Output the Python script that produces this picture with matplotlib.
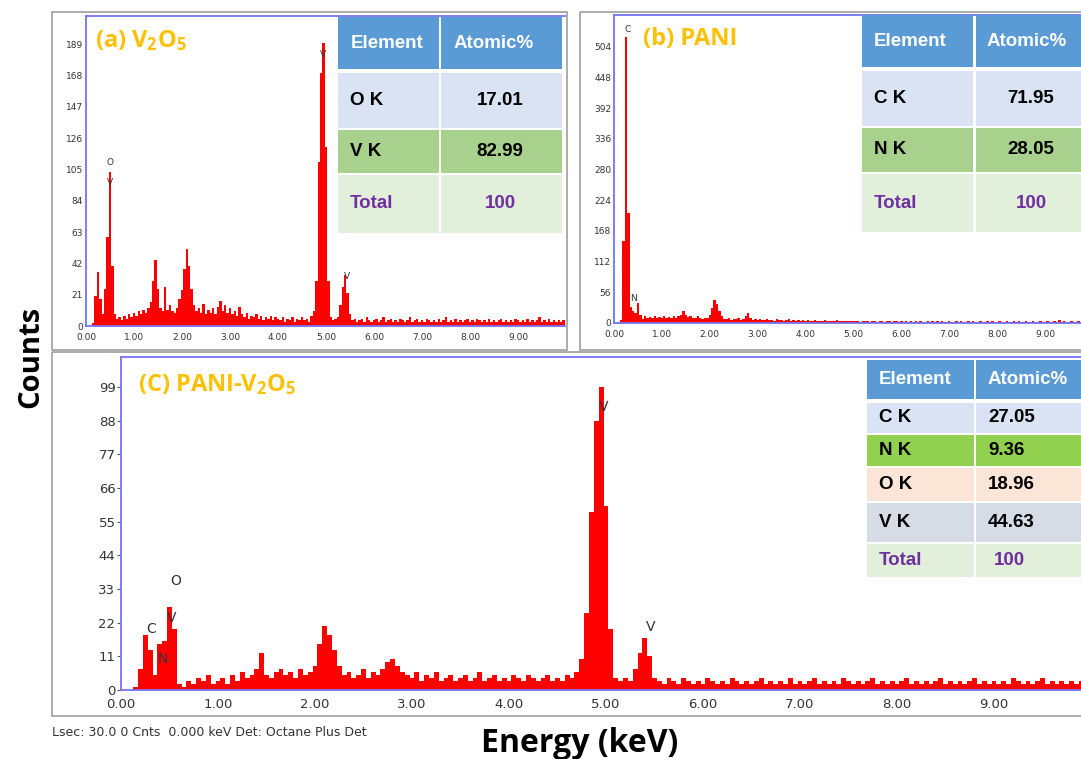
import numpy as np
import matplotlib
matplotlib.use('Agg')
import matplotlib.pyplot as plt
from matplotlib.patches import Rectangle

# EDS spectra, one count value per 0.05 keV channel starting at 0.00 keV
STEP = 0.05

counts_v2o5 = [
    0, 0, 0, 2, 20, 36, 18, 8, 25, 60, 103, 40, 8, 5, 6, 4, 7, 5, 8, 6,
    9, 7, 10, 8, 11, 9, 12, 16, 30, 44, 25, 12, 10, 26, 11, 14, 10, 9, 12, 18,
    24, 38, 52, 40, 25, 14, 10, 12, 9, 15, 8, 11, 9, 12, 8, 13, 17, 10, 14, 9,
    12, 8, 10, 7, 13, 8, 6, 9, 5, 7, 6, 8, 5, 7, 4, 6, 5, 7, 4, 6,
    5, 4, 6, 3, 5, 4, 6, 3, 5, 4, 6, 4, 5, 3, 7, 10, 30, 110, 170, 190,
    120, 30, 6, 4, 5, 6, 14, 26, 34, 22, 8, 4, 5, 3, 4, 5, 3, 6, 4, 3,
    4, 5, 3, 4, 6, 3, 4, 5, 3, 4, 3, 5, 4, 3, 4, 6, 3, 4, 5, 3,
    4, 3, 5, 4, 3, 4, 3, 5, 3, 4, 6, 3, 4, 3, 5, 3, 4, 3, 4, 5,
    3, 4, 3, 5, 4, 3, 4, 3, 5, 3, 4, 3, 4, 5, 3, 4, 3, 4, 3, 5,
    4, 3, 4, 3, 5, 3, 4, 3, 4, 6, 3, 4, 3, 5, 3, 4, 3, 4, 3, 4,
]

counts_pani = [
    0, 0, 0, 5, 150, 522, 200, 30, 22, 18, 36, 15, 8, 12, 10, 11, 9, 12, 10, 11,
    9, 12, 10, 11, 9, 12, 10, 13, 15, 22, 14, 11, 12, 9, 10, 12, 9, 8, 10, 9,
    14, 28, 42, 35, 22, 12, 8, 7, 9, 6, 8, 7, 10, 6, 7, 12, 18, 9, 6, 7,
    5, 7, 6, 5, 8, 5, 6, 4, 7, 5, 6, 4, 5, 8, 4, 5, 4, 6, 4, 5,
    4, 5, 3, 4, 5, 3, 4, 3, 5, 4, 3, 4, 3, 5, 3, 4, 3, 4, 3, 4,
    3, 4, 3, 2, 4, 3, 3, 2, 4, 3, 2, 3, 4, 2, 3, 3, 2, 4, 3, 2,
    3, 2, 3, 2, 4, 2, 3, 2, 3, 2, 2, 3, 2, 3, 2, 4, 2, 3, 2, 2,
    3, 2, 2, 3, 2, 3, 2, 2, 4, 2, 3, 2, 2, 3, 2, 2, 3, 2, 4, 2,
    2, 3, 2, 2, 3, 2, 2, 3, 2, 4, 2, 2, 3, 2, 2, 3, 2, 2, 3, 2,
    2, 3, 2, 2, 3, 2, 5, 2, 3, 2, 2, 3, 2, 2, 3, 2, 4, 2, 3, 2,
]

counts_pani_v2o5 = [
    0, 0, 0, 1, 7, 18, 13, 5, 15, 16, 27, 20, 2, 1, 3, 2, 4, 3, 5, 2,
    3, 4, 2, 5, 3, 6, 4, 5, 7, 12, 5, 4, 6, 7, 5, 6, 4, 7, 5, 6,
    8, 15, 21, 18, 13, 8, 5, 6, 4, 5, 7, 4, 6, 5, 7, 9, 10, 8, 6, 5,
    4, 6, 3, 5, 4, 6, 3, 4, 5, 3, 4, 5, 3, 4, 6, 3, 4, 5, 3, 4,
    3, 5, 4, 3, 5, 4, 3, 4, 5, 3, 4, 3, 5, 4, 6, 10, 25, 58, 88, 99,
    60, 20, 4, 3, 4, 3, 7, 12, 17, 11, 4, 3, 2, 4, 3, 2, 4, 3, 2, 3,
    2, 4, 3, 2, 3, 2, 4, 3, 2, 3, 2, 3, 4, 2, 3, 2, 3, 2, 4, 2,
    3, 2, 3, 4, 2, 3, 2, 3, 2, 4, 3, 2, 3, 2, 3, 4, 2, 3, 2, 3,
    2, 3, 4, 2, 3, 2, 3, 2, 3, 4, 2, 3, 2, 3, 2, 3, 4, 2, 3, 2,
    3, 2, 3, 2, 4, 3, 2, 3, 2, 3, 4, 2, 3, 2, 3, 2, 3, 2, 3, 2,
]

# peak markers: (label, energy keV, counts)
peaks_v2o5 = [('O', 0.50, 110), ('V', 0.50, 96), ('V', 4.93, 182), ('V', 5.43, 33)]
peaks_pani = [('C', 0.28, 536), ('N', 0.40, 45)]
peaks_pani_v2o5 = [('C', 0.31, 20), ('N', 0.43, 10), ('V', 0.52, 23.5),
                   ('O', 0.56, 35.5), ('V', 4.98, 92.5), ('V', 5.46, 20.5)]

# atomic % tables
elements_v2o5 = ['O K', 'V K', 'Total']
atomic_v2o5 = ['17.01', '82.99', '100']
elements_pani = ['C K', 'N K', 'Total']
atomic_pani = ['71.95', '28.05', '100']
elements_pani_v2o5 = ['C K', 'N K', 'O K', 'V K', 'Total']
atomic_pani_v2o5 = ['27.05', '9.36', '18.96', '44.63', '100']

W, H = 1081, 759
SPINE = '#7474f2'
ORANGE = '#ffc000'
HEAD = '#5b9bd5'
PURPLE = '#7030a0'
NARROW = ['Liberation Sans Narrow', 'DejaVu Sans']

plt.rcParams['mathtext.fontset'] = 'custom'
plt.rcParams['mathtext.rm'] = 'Open Sans:bold'
plt.rcParams['mathtext.it'] = 'Open Sans:bold'
plt.rcParams['mathtext.bf'] = 'Open Sans:bold'

fig = plt.figure(figsize=(W / 100, H / 100), dpi=100)


def px_axes(x0, y0, x1, y1):
    return fig.add_axes([x0 / W, 1 - y1 / H, (x1 - x0) / W, (y1 - y0) / H])


def spectrum(ax, counts, xmax, ymax, yticks, peaks, small=True):
    energy = np.arange(len(counts)) * STEP
    ax.bar(energy, counts, width=STEP, color='#ff0000', linewidth=0)
    ax.set_xlim(0, xmax)
    ax.set_ylim(0, ymax)
    ax.set_xticks(np.arange(0, 10))
    ax.set_xticklabels(['%.2f' % v for v in range(10)])
    ax.set_yticks(yticks)
    for side in ['left', 'top', 'bottom']:
        ax.spines[side].set_color(SPINE)
        ax.spines[side].set_linewidth(1.3)
    ax.spines['right'].set_visible(False)
    if small:
        ax.tick_params(length=0, pad=2, labelsize=6.5, labelcolor='#333333')
        ax.tick_params(axis='x', pad=5)
        for lab in ax.get_xticklabels() + ax.get_yticklabels():
            lab.set_family(NARROW)
        fs = 6.5
    else:
        ax.tick_params(axis='y', length=3, width=0.8, color='#555555', pad=1,
                       labelsize=9.5, labelcolor='#333333')
        ax.tick_params(axis='x', length=0, pad=6, labelsize=9.5, labelcolor='#333333')
        fs = 10
    for name, e, c in peaks:
        ax.text(e, c, name, ha='center', va='center', fontsize=fs, color='#333333')


ax_a = px_axes(86, 16, 565, 326)
spectrum(ax_a, counts_v2o5, 479 / 48, 208, np.arange(0, 190, 21), peaks_v2o5)

ax_b = px_axes(614, 15, 1081, 323)
spectrum(ax_b, counts_pani, 467 / 47.9, 562, np.arange(0, 505, 56), peaks_pani)

ax_c = px_axes(121, 357, 1081, 690)
spectrum(ax_c, counts_pani_v2o5, 960 / 97, 108.8, np.arange(0, 100, 11),
         peaks_pani_v2o5, small=False)

# overlay in pixel coordinates for frames, tables and titles
ov = fig.add_axes([0, 0, 1, 1], zorder=5)
ov.set_xlim(0, W)
ov.set_ylim(H, 0)
ov.axis('off')
ov.patch.set_alpha(0)

for x0, y0, x1, y1 in [(52, 12, 567, 350), (580, 12, 1086, 350), (52, 352, 1086, 716)]:
    ov.add_patch(Rectangle((x0, y0), x1 - x0, y1 - y0, fill=False,
                           ec='#a6a6a6', lw=1.3))


def table(cols, rows, colors, names, values, label_x, head_x, value_x, centred):
    for (y0, y1), col in zip(rows, colors):
        for x0, x1 in cols:
            ov.add_patch(Rectangle((x0, y0), x1 - x0, y1 - y0, fc=col, ec='none'))
    ha = 'center' if centred else 'left'
    font = dict(family=['Liberation Sans', 'DejaVu Sans'], fontweight='bold', fontsize=13.5)
    ym = (rows[0][0] + rows[0][1]) / 2
    ov.text(head_x[0], ym, 'Element', ha=ha, va='center', color='white', **font)
    ov.text(head_x[1], ym, 'Atomic%', ha=ha, va='center', color='white', **font)
    for (y0, y1), name, val in zip(rows[1:], names, values):
        ym = (y0 + y1) / 2
        col = PURPLE if name == 'Total' else 'black'
        ov.text(label_x, ym, name, ha='left', va='center', color=col, **font)
        ov.text(value_x + (6 if name == 'Total' and not centred else 0), ym, val,
                ha=ha, va='center', color=col, **font)


table([(338, 439), (441, 562)], [(17, 69), (73, 128), (130, 173), (175, 233)],
      [HEAD, '#dae3f3', '#a9d18e', '#e2efda'], elements_v2o5, atomic_v2o5,
      350, (387, 494), 500, True)
table([(862, 973), (976, 1081)], [(15, 67), (71, 126), (128, 172), (174, 232)],
      [HEAD, '#dae3f3', '#a9d18e', '#e2efda'], elements_pani, atomic_pani,
      874, (910, 1027), 1031, True)
table([(867, 974), (976, 1081)],
      [(360, 399), (403, 433), (435, 466), (468, 501), (503, 542), (544, 577)],
      [HEAD, '#dae3f3', '#92d050', '#fbe5d6', '#d6dce5', '#e2efda'],
      elements_pani_v2o5, atomic_pani_v2o5, 879, (879, 988), 988, False)

title_font = dict(family=['Open Sans', 'DejaVu Sans'], fontweight='bold',
                  fontsize=17, color=ORANGE, va='baseline', ha='left')
ov.text(95, 47, r'(a) V$_{2}$O$_{5}$', **title_font)
ov.text(643, 45, '(b) PANI', **title_font)
ov.text(138, 391, r'(C) PANI-V$_{2}$O$_{5}$', **title_font)

ov.text(31, 357, 'Counts', rotation=90, ha='center', va='center',
        family=['Open Sans', 'DejaVu Sans'], fontweight='bold', fontsize=21)
ov.text(580, 744, 'Energy (keV)', ha='center', va='center',
        family=['Open Sans', 'DejaVu Sans'], fontweight='bold', fontsize=23)
ov.text(52, 733, 'Lsec: 30.0 0 Cnts  0.000 keV Det: Octane Plus Det',
        ha='left', va='center', fontsize=9, color='#333333')

fig.savefig('out.png', dpi=100)
